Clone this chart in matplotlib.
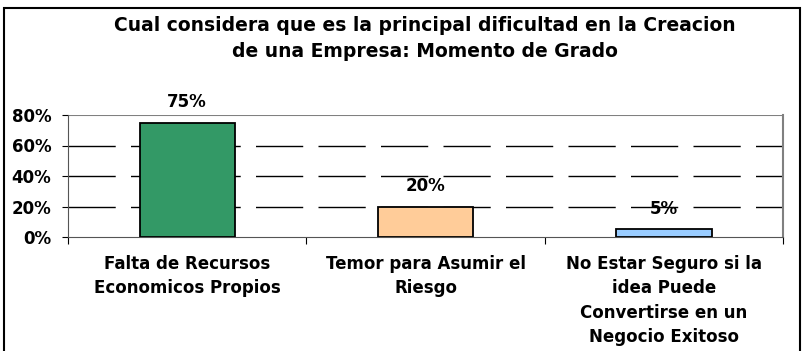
import matplotlib.pyplot as plt
from matplotlib.patches import Rectangle

plt.rcParams['font.family'] = ['DejaVu Sans']

categorias = ['Falta de Recursos\nEconomicos Propios',
              'Temor para Asumir el\nRiesgo',
              'No Estar Seguro si la\nidea Puede\nConvertirse en un\nNegocio Exitoso']
valores = [0.75, 0.20, 0.05]
colores = ['#339966', '#FFCC99', '#99CCFF']
titulo = 'Cual considera que es la principal dificultad en la Creacion\nde una Empresa: Momento de Grado'

W, H = 802, 351
fig = plt.figure(figsize=(W / 100, H / 100), dpi=100)

# marco exterior del grafico
fig.patches.append(Rectangle((4 / W, -0.1), 796 / W, 1 - 8 / H + 0.1,
                             transform=fig.transFigure, fill=False,
                             edgecolor='black', linewidth=1.5))

ax = fig.add_axes([68 / W, 1 - 237 / H, (783 - 68) / W, (237 - 115) / H])

x = range(len(valores))
ax.bar(x, valores, width=0.4, color=colores, edgecolor='black', linewidth=1.3, zorder=3)
for xi, v in zip(x, valores):
    ax.annotate(f'{v:.0%}', (xi, v), xytext=(0, 15), textcoords='offset points',
                ha='center', va='center', fontsize=12, fontweight='bold')

ax.set_xlim(-0.5, 2.5)
ax.set_ylim(0, 0.8)
ax.set_yticks([0, 0.2, 0.4, 0.6, 0.8])
ax.set_yticklabels([f'{t:.0%}' for t in ax.get_yticks()], fontsize=12, fontweight='bold')

for g in [0.2, 0.4, 0.6]:
    ax.axhline(g, color='black', linewidth=1, dashes=(34, 11), zorder=1)
ax.axhline(0.8, color='#808080', linewidth=1.5, zorder=1)

ax.spines['top'].set_visible(False)
ax.spines['right'].set_color('#808080')
ax.spines['right'].set_linewidth(1.5)
ax.spines['left'].set_color('#555555')
ax.spines['bottom'].set_color('#555555')
ax.tick_params(axis='y', length=4, pad=8)

# marcas del eje x entre categorias
ax.set_xticks([-0.5, 0.5, 1.5, 2.5])
ax.set_xticklabels([])
ax.tick_params(axis='x', length=5, direction='out')
for xi, cat in zip(x, categorias):
    ax.annotate(cat, (xi, 0), xytext=(0, -13), textcoords='offset points',
                ha='center', va='top', fontsize=12, fontweight='bold',
                linespacing=1.45)

fig.text(425 / W, 1 - 38.5 / H, titulo, ha='center', va='center',
         fontsize=13.5, fontweight='bold', linespacing=1.45)

fig.savefig('out.png', dpi=100)
